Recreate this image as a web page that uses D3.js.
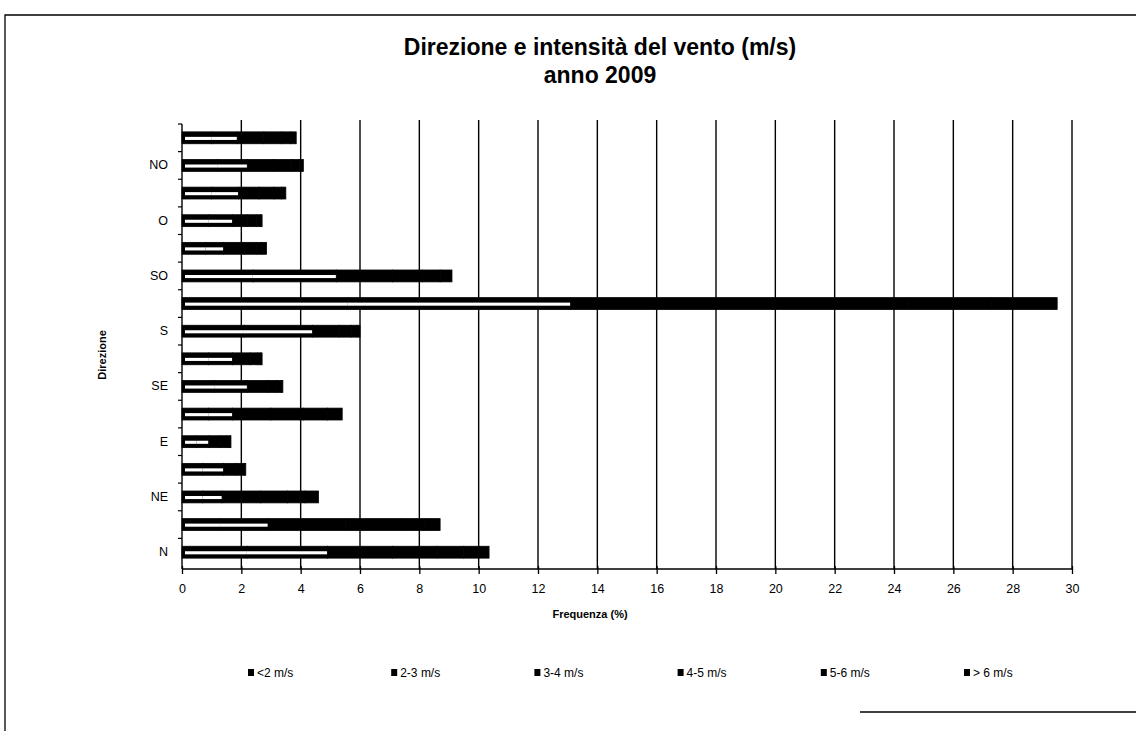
<!DOCTYPE html>
<html>
<head>
<meta charset="utf-8">
<script src="https://cdn.jsdelivr.net/npm/d3@7"></script>
<style>
  body { margin: 0; background: #fff; }
  svg { display: block; font-family: "Liberation Sans", Arial, sans-serif; }
</style>
</head>
<body>
<div id="chart"></div>
<script>
// wind directions, bottom (N) to top (NNO)
const directions = ['N', 'NNE', 'NE', 'ENE', 'E', 'ESE', 'SE', 'SSE', 'S', 'SSO', 'SO', 'OSO', 'O', 'ONO', 'NO', 'NNO'];
const labelled = ['N', 'NE', 'E', 'SE', 'S', 'SO', 'O', 'NO'];
const classes = ['<2 m/s', '2-3  m/s', '3-4 m/s', '4-5 m/s', '5-6 m/s', '> 6 m/s'];

// frequency (%) per speed class, same order as directions
const lt2  = [2.2, 1.3, 0.7,  0.7, 0.5, 0.9, 1.1, 0.9,  2.1, 5.6, 2.4, 0.8,  0.9,  1.0, 1.2,  1.0];
const s2_3 = [2.7, 1.6, 0.65, 0.7, 0.4, 0.8, 1.1, 0.8,  2.3, 7.5, 2.8, 0.6,  0.8,  0.9, 1.0,  0.86];
const s3_4 = [2.2, 2.6, 1.3,  0.4, 0.4, 1.3, 0.7, 0.6,  0.9, 6.8, 1.9, 0.7,  0.5,  0.7, 0.9,  0.9];
const s4_5 = [1.5, 1.9, 0.9,  0.2, 0.2, 1.1, 0.3, 0.25, 0.4, 4.6, 1.0, 0.4,  0.3,  0.5, 0.6,  0.6];
const s5_6 = [0.9, 0.8, 0.6,  0.1, 0.1, 0.8, 0.15, 0.1, 0.2, 2.8, 0.6, 0.2,  0.15, 0.25, 0.25, 0.3];
const gt6  = [0.85, 0.5, 0.45, 0.05, 0.05, 0.5, 0.05, 0.05, 0.1, 2.2, 0.4, 0.15, 0.05, 0.15, 0.14, 0.19];

const xTicks = d3.range(0, 31, 2);

const W = 1136, H = 731;
const margin = { top: 124, left: 182 };

const svg = d3.select('#chart').append('svg')
  .attr('width', W)
  .attr('height', H);

// frame (scanned page border)
svg.append('path')
  .attr('d', `M5,${H}V15H${W}M860,712H${W}`)
  .attr('fill', 'none')
  .attr('stroke', '#000')
  .attr('stroke-width', 1.3);

// titles
svg.append('text')
  .attr('x', 600).attr('y', 55)
  .attr('text-anchor', 'middle')
  .attr('font-size', 23).attr('font-weight', 'bold')
  .text('Direzione e intensità del vento (m/s)');
svg.append('text')
  .attr('x', 600).attr('y', 83)
  .attr('text-anchor', 'middle')
  .attr('font-size', 23).attr('font-weight', 'bold')
  .text('anno 2009');

const g = svg.append('g').attr('transform', `translate(${margin.left},${margin.top})`);

const x = d3.scaleLinear().domain([0, 30]).range([0, 890]);
const y = d3.scaleBand().domain(directions.slice().reverse()).range([0, 442]).paddingInner(0.57).paddingOuter(0.285);

// vertical gridlines
g.append('g')
  .selectAll('line')
  .data(xTicks.filter(d => d > 0))
  .join('line')
  .attr('x1', d => x(d)).attr('x2', d => x(d))
  .attr('y1', -4).attr('y2', 445)
  .attr('stroke', '#000')
  .attr('stroke-width', 1.4);

// stacked bars
const rows = directions.map((d, i) => ({
  dir: d,
  '<2 m/s': lt2[i], '2-3  m/s': s2_3[i], '3-4 m/s': s3_4[i],
  '4-5 m/s': s4_5[i], '5-6 m/s': s5_6[i], '> 6 m/s': gt6[i]
}));
const stack = d3.stack().keys(classes)(rows);

const layers = g.append('g').selectAll('g')
  .data(stack)
  .join('g');

layers.selectAll('rect')
  .data(d => d)
  .join('rect')
  .attr('x', d => x(d[0]))
  .attr('y', d => y(d.data.dir))
  .attr('width', d => x(d[1]) - x(d[0]))
  .attr('height', y.bandwidth())
  .attr('fill', '#000')
  .attr('stroke', '#000')
  .attr('stroke-width', 0.8);

// lighter classes show up as a thin white streak in the print
layers.filter((d, i) => i < 2)
  .selectAll('rect.streak')
  .data(d => d.map(v => Object.assign(v, { first: d.index === 0 })))
  .join('rect')
  .attr('class', 'streak')
  .attr('x', d => x(d[0]) + (d.first ? 3 : -0.5))
  .attr('y', d => y(d.data.dir) + y.bandwidth() * 0.42)
  .attr('width', d => Math.max(0, x(d[1]) - x(d[0]) - (d.first ? 3 : -1)))
  .attr('height', y.bandwidth() * 0.26)
  .attr('fill', '#fff');

// x axis
const xAxis = g.append('g')
  .attr('transform', `translate(0,445)`)
  .call(d3.axisBottom(x).tickValues(xTicks).tickSize(5).tickPadding(10));
xAxis.select('.domain').attr('stroke-width', 1.4).attr('d', `M0,0H${x(30)}`);
xAxis.selectAll('.tick line').attr('y1', -3).attr('stroke-width', 1.3);
xAxis.selectAll('text').attr('font-size', 12.5).attr('fill', '#000')
  .attr('font-family', '"Liberation Sans", Arial, sans-serif');

// y axis
const yAxis = g.append('g')
  .call(d3.axisLeft(y).tickSize(0).tickPadding(14)
    .tickFormat(d => labelled.includes(d) ? d : ''));
yAxis.select('.domain').attr('stroke-width', 1.4).attr('d', `M0,0V445`);
yAxis.selectAll('text').attr('font-size', 12.5).attr('fill', '#000')
  .attr('font-family', '"Liberation Sans", Arial, sans-serif');

// y ticks at category boundaries
g.append('g')
  .selectAll('line')
  .data(directions)
  .join('line')
  .attr('x1', -4).attr('x2', 0)
  .attr('y1', d => y(d) + y.bandwidth() / 2 - y.step() / 2)
  .attr('y2', d => y(d) + y.bandwidth() / 2 - y.step() / 2)
  .attr('stroke', '#000')
  .attr('stroke-width', 1.2);

// axis titles
svg.append('text')
  .attr('transform', 'translate(106,355) rotate(-90)')
  .attr('text-anchor', 'middle')
  .attr('font-size', 11).attr('font-weight', 'bold')
  .text('Direzione');
svg.append('text')
  .attr('x', 590).attr('y', 618)
  .attr('text-anchor', 'middle')
  .attr('font-size', 11).attr('font-weight', 'bold')
  .text('Frequenza (%)');

// legend
const lx = d3.scalePoint().domain(classes).range([248, 964]);
const legend = svg.append('g').selectAll('g')
  .data(classes)
  .join('g')
  .attr('transform', d => `translate(${lx(d)},677)`);
legend.append('rect')
  .attr('x', 0).attr('y', -8)
  .attr('width', 6).attr('height', 7)
  .attr('fill', '#000');
legend.append('text')
  .attr('x', 9).attr('y', 0)
  .attr('font-size', 12)
  .text(d => d);
</script>
</body>
</html>
